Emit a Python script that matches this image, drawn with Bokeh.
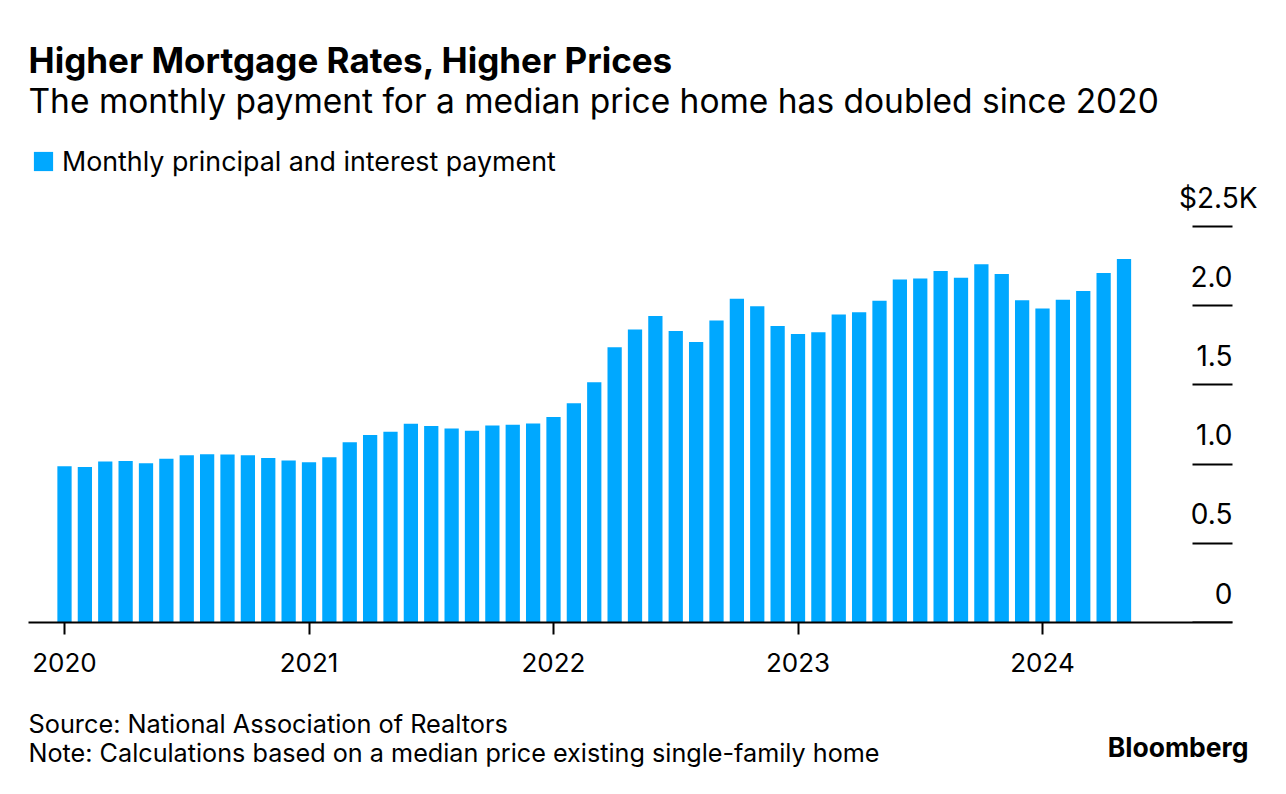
from bokeh.plotting import figure
from bokeh.layouts import column
from bokeh.models import (ColumnDataSource, FixedTicker, LinearAxis, Range1d, Label,
                          LabelSet, Legend, LegendItem, CustomJSTickFormatter)
from bokeh.core.properties import value
from bokeh.embed import file_html
from bokeh.resources import INLINE

# ---------------- data ----------------
first_year = 2020
# Monthly principal and interest payment, US$ (Jan 2020 .. May 2024)
payments = [986, 982, 1016, 1020, 1005, 1033, 1056, 1062, 1060, 1056, 1039, 1022,
            1011, 1043, 1138, 1184, 1205, 1254, 1241, 1224, 1211, 1243, 1249, 1256,
            1298, 1384, 1516, 1737, 1849, 1935, 1840, 1771, 1907, 2044, 1996, 1872,
            1821, 1832, 1945, 1958, 2032, 2166, 2172, 2219, 2177, 2261, 2200, 2034,
            1983, 2038, 2093, 2206, 2295]
months = [f"{first_year + i // 12}-{i % 12 + 1:02d}" for i in range(len(payments))]
year_labels = ["2020", "2021", "2022", "2023", "2024"]
y_ticks = [0, 0.5, 1.0, 1.5, 2.0, 2.5]
y_tick_labels = ["0", "0.5", "1.0", "1.5", "2.0", "$2.5K"]

title = "Higher Mortgage Rates, Higher Prices"
subtitle = "The monthly payment for a median price home has doubled since 2020"
legend_label = "Monthly principal and interest payment"
source_note = "Source: National Association of Realtors"
note = "Note: Calculations based on a median price existing single-family home"

# ---------------- style / geometry ----------------
FONT = "Inter"
BAR = "#00A8FF"
INK = "#000000"
W = 1270
MAIN_H = 690
FOOT_H = 88
FRAME_RIGHT_PAD = 10
FRAME_BOTTOM_PAD = 68
frame_w = W - FRAME_RIGHT_PAD
frame_h = MAIN_H - FRAME_BOTTOM_PAD      # frame top = figure top
px_per_month = 20.375
px_per_k = 158.4
first_bar_px = 64
axis_left_px, axis_right_px = 28, 1232

x_start = -first_bar_px / px_per_month
x_end = x_start + frame_w / px_per_month
axis_start = x_start + axis_left_px / px_per_month
axis_end = x_start + axis_right_px / px_per_month
y_end = frame_h / px_per_k

idx = list(range(len(months)))
src = ColumnDataSource(dict(x=idx, month=months, top=[v / 1000 for v in payments]))

p = figure(width=W, height=MAIN_H, output_backend="svg", toolbar_location=None,
           title=None, x_range=Range1d(x_start, x_end), y_range=Range1d(0, y_end),
           min_border_left=0, min_border_right=FRAME_RIGHT_PAD, min_border_top=0,
           min_border_bottom=FRAME_BOTTOM_PAD, y_axis_location=None)
p.outline_line_color = None
p.xgrid.visible = False
p.ygrid.visible = False

r = p.vbar(x="x", top="top", width=0.7, source=src, fill_color=BAR, line_color=None)

# x axis
xa = p.xaxis[0]
year_pos = [12 * i for i in range(len(year_labels))]
xa.ticker = FixedTicker(ticks=year_pos)
xa.major_label_overrides = {pos: lab for pos, lab in zip(year_pos, year_labels)}
xa.bounds = (axis_start, axis_end)
xa.axis_line_color = INK
xa.axis_line_width = 2
xa.major_tick_line_color = INK
xa.major_tick_line_width = 2
xa.major_tick_out = 12
xa.major_tick_in = 0
xa.minor_tick_line_color = None
xa.major_label_standoff = 18
xa.major_label_text_font = FONT
xa.major_label_text_font_size = "26px"
xa.major_label_text_color = INK

# right axis drawn at the end of the baseline: short tick dashes only
ra = LinearAxis(ticker=FixedTicker(ticks=y_ticks), fixed_location=axis_end,
                major_tick_in=40, major_tick_out=0, major_label_standoff=0,
                minor_tick_line_color=None, axis_line_color=None,
                major_tick_line_color=INK, major_tick_line_width=2,
                formatter=CustomJSTickFormatter(code="return ''"))
p.add_layout(ra, "right")

# y tick labels above the dashes
lab_src = ColumnDataSource(dict(
    x=[axis_end] * len(y_ticks), y=y_ticks, text=y_tick_labels,
    xoff=[25 if t.endswith("K") else 0 for t in y_tick_labels]))
p.add_layout(LabelSet(x="x", y="y", text="text", source=lab_src, x_offset="xoff",
                      y_offset=19, text_align="right", text_baseline="alphabetic",
                      text_font=value(FONT), text_font_size=value("28px"),
                      text_color=INK))

# legend
legend = Legend(items=[LegendItem(label=legend_label, renderers=[r])],
                location=(31, 445), orientation="horizontal", padding=0, margin=0,
                border_line_color=None, background_fill_alpha=0,
                glyph_width=24, glyph_height=24, label_standoff=7,
                label_text_font=FONT, label_text_font_size="26.8px",
                label_text_color=INK, label_height=24)
p.add_layout(legend)


def txt(fig, x, y_from_bottom, text, size, bold=False, align="left"):
    # Bokeh places the "alphabetic" baseline ~0.4em lower than requested here
    fig.add_layout(Label(x=x, y=y_from_bottom + 0.4 * size, x_units="screen",
                         y_units="screen", text=text, text_font=FONT,
                         text_font_size=f"{size}px",
                         text_font_style="bold" if bold else "normal",
                         text_color=INK, text_align=align, text_baseline="alphabetic"))


# titles (inside the main frame, which starts at the figure top)
txt(p, 28, frame_h - 73, title, 35, bold=True)
txt(p, 28, frame_h - 114, subtitle, 33.5)

# footer figure
f = figure(width=W, height=FOOT_H, output_backend="svg", toolbar_location=None,
           title=None, x_range=Range1d(0, 1), y_range=Range1d(0, 1),
           min_border=0, x_axis_location=None, y_axis_location=None)
f.outline_line_color = None
f.xgrid.visible = False
f.ygrid.visible = False
txt(f, 28, FOOT_H - (733.5 - MAIN_H), source_note, 25.3)
txt(f, 28, FOOT_H - (763 - MAIN_H), note, 25.2)
txt(f, 1248, FOOT_H - (757 - MAIN_H), "Bloomberg", 26.5, bold=True, align="right")

layout = column(p, f, spacing=0)
open("out.html", "w").write(file_html(layout, INLINE))
